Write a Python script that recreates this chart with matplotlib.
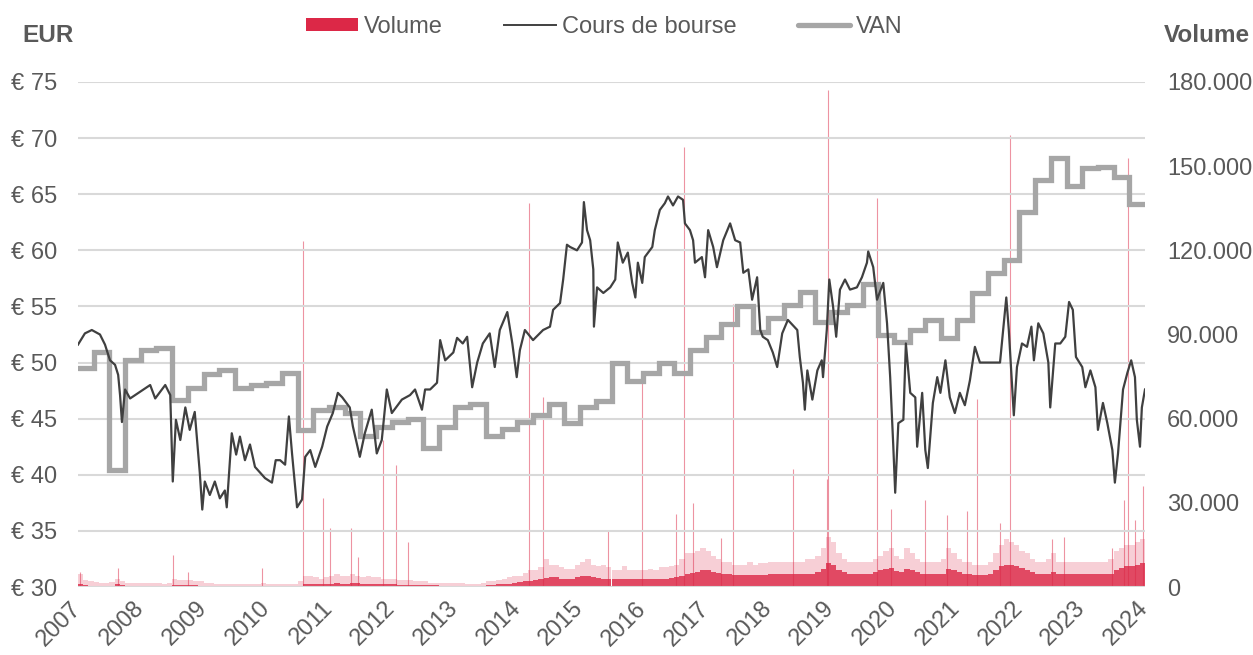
import numpy as np
import matplotlib
matplotlib.use("Agg")
import matplotlib.pyplot as plt
from matplotlib.patches import Patch
from matplotlib.lines import Line2D
from matplotlib.ticker import FuncFormatter

# share price (year fraction / EUR)
price_yr = [2007.00, 2007.11, 2007.22, 2007.35, 2007.43, 2007.51, 2007.59, 2007.64, 2007.67, 2007.70,
            2007.75, 2007.83, 2007.99, 2008.15, 2008.23, 2008.31, 2008.39, 2008.47, 2008.51, 2008.56,
            2008.63, 2008.71, 2008.78, 2008.86, 2008.91, 2008.94, 2008.98, 2009.02, 2009.10, 2009.18,
            2009.26, 2009.34, 2009.37, 2009.45, 2009.52, 2009.58, 2009.66, 2009.74, 2009.82, 2009.90,
            2009.98, 2010.09, 2010.15, 2010.22, 2010.30, 2010.36, 2010.41, 2010.49, 2010.57, 2010.62,
            2010.70, 2010.78, 2010.89, 2010.97, 2011.06, 2011.14, 2011.21, 2011.33, 2011.38, 2011.49,
            2011.57, 2011.68, 2011.76, 2011.84, 2011.92, 2012.00, 2012.16, 2012.29, 2012.37, 2012.48,
            2012.53, 2012.61, 2012.72, 2012.77, 2012.85, 2012.98, 2013.04, 2013.13, 2013.20, 2013.28,
            2013.36, 2013.45, 2013.56, 2013.64, 2013.72, 2013.84, 2013.92, 2013.99, 2014.04, 2014.12,
            2014.25, 2014.41, 2014.52, 2014.57, 2014.68, 2014.73, 2014.79, 2014.84, 2014.95, 2015.03,
            2015.06, 2015.11, 2015.16, 2015.21, 2015.22, 2015.27, 2015.37, 2015.48, 2015.56, 2015.60,
            2015.68, 2015.76, 2015.83, 2015.88, 2015.92, 2015.99, 2016.03, 2016.15, 2016.19, 2016.27,
            2016.35, 2016.40, 2016.48, 2016.56, 2016.64, 2016.67, 2016.75, 2016.80, 2016.83, 2016.94,
            2016.99, 2017.04, 2017.12, 2017.18, 2017.28, 2017.39, 2017.47, 2017.55, 2017.60, 2017.68,
            2017.74, 2017.82, 2017.87, 2017.91, 2017.99, 2018.07, 2018.14, 2018.22, 2018.31, 2018.46,
            2018.50, 2018.55, 2018.58, 2018.62, 2018.70, 2018.78, 2018.85, 2018.87, 2018.93, 2018.97,
            2019.03, 2019.08, 2019.14, 2019.22, 2019.30, 2019.41, 2019.49, 2019.57, 2019.59, 2019.67,
            2019.73, 2019.83, 2019.89, 2019.94, 2019.99, 2020.02, 2020.07, 2020.15, 2020.19, 2020.26,
            2020.34, 2020.37, 2020.45, 2020.50, 2020.54, 2020.62, 2020.69, 2020.74, 2020.82, 2020.89,
            2020.97, 2021.05, 2021.13, 2021.21, 2021.29, 2021.37, 2021.53, 2021.69, 2021.74, 2021.79,
            2021.83, 2021.88, 2021.91, 2021.96, 2022.04, 2022.12, 2022.19, 2022.23, 2022.30, 2022.38,
            2022.46, 2022.49, 2022.57, 2022.65, 2022.73, 2022.79, 2022.85, 2022.90, 2023.00, 2023.05,
            2023.13, 2023.21, 2023.25, 2023.33, 2023.40, 2023.48, 2023.52, 2023.57, 2023.65, 2023.72,
            2023.78, 2023.84, 2023.87, 2023.92, 2023.95, 2024.00]
price = [51.6, 52.6, 52.9, 52.5, 51.6, 50.2, 49.8, 48.9, 47.1, 44.7,
         47.6, 46.8, 47.4, 48.0, 46.8, 47.4, 48.0, 47.1, 39.4, 44.9,
         43.1, 46.0, 44.0, 45.6, 42.2, 40.2, 36.9, 39.4, 38.2, 39.4,
         37.9, 38.6, 37.1, 43.7, 41.8, 43.4, 41.3, 42.7, 40.7, 40.2,
         39.7, 39.3, 41.3, 41.3, 40.9, 45.2, 41.9, 37.1, 37.8, 41.6,
         42.2, 40.7, 42.5, 44.3, 45.5, 47.3, 46.9, 46.0, 44.3, 41.6,
         43.7, 45.8, 41.9, 43.1, 47.6, 45.5, 46.7, 47.1, 47.6, 45.8,
         47.6, 47.6, 48.2, 52.0, 50.2, 50.9, 52.2, 51.7, 52.3, 47.8,
         50.0, 51.7, 52.6, 49.6, 52.9, 54.5, 51.7, 48.7, 51.1, 52.9,
         52.0, 52.9, 53.2, 54.7, 55.3, 57.4, 60.5, 60.3, 60.0, 60.7,
         64.3, 61.8, 60.9, 58.3, 53.2, 56.7, 56.2, 56.7, 57.4, 60.7,
         58.9, 59.8, 57.1, 55.8, 58.9, 57.1, 59.4, 60.3, 61.8, 63.6,
         64.2, 64.8, 64.0, 64.8, 64.5, 62.4, 61.8, 60.9, 58.9, 59.4,
         57.6, 61.8, 60.3, 58.5, 60.9, 62.4, 60.9, 60.7, 58.0, 58.3,
         55.6, 57.6, 52.9, 52.3, 52.0, 50.9, 49.6, 52.6, 53.8, 52.9,
         50.5, 48.2, 45.8, 49.3, 46.7, 49.3, 50.2, 48.7, 52.9, 57.4,
         55.0, 52.3, 56.5, 57.4, 56.5, 56.7, 57.6, 58.9, 59.9, 58.5,
         55.6, 57.1, 53.5, 48.7, 42.5, 38.4, 44.6, 44.9, 51.7, 47.3,
         46.9, 42.5, 47.3, 42.2, 40.6, 46.4, 48.7, 47.3, 50.2, 46.9,
         45.5, 47.3, 46.2, 48.4, 51.4, 50.0, 50.0, 50.0, 52.9, 55.8,
         52.9, 48.2, 45.3, 49.6, 51.7, 51.4, 53.2, 50.2, 53.5, 52.6,
         50.0, 46.0, 51.7, 51.7, 52.3, 55.4, 54.7, 50.5, 49.6, 47.8,
         49.3, 47.8, 44.0, 46.4, 44.6, 42.2, 39.3, 41.9, 47.6, 49.1,
         50.2, 48.7, 44.9, 42.5, 46.0, 47.6]

# VAN per quarter, 2007 Q1 .. 2023 Q4
van = [49.5, 50.9, 40.4, 50.2, 51.1, 51.3, 46.7, 47.7, 49.0, 49.3,
       47.7, 48.0, 48.2, 49.1, 44.0, 45.8, 46.0, 45.5, 43.5, 44.3,
       44.7, 45.0, 42.4, 44.3, 46.0, 46.3, 43.5, 44.1, 44.7, 45.3,
       46.3, 44.6, 46.0, 46.6, 50.0, 48.4, 49.1, 50.0, 49.1, 51.1,
       52.3, 53.4, 55.0, 52.7, 54.0, 55.1, 56.3, 53.6, 54.5, 55.1,
       57.0, 52.5, 51.8, 52.9, 53.8, 52.2, 53.8, 56.2, 58.0, 59.1,
       63.4, 66.3, 68.2, 65.7, 67.3, 67.4, 66.5, 64.1]

# monthly volume, thousands: dense core and upper envelope
vol_core = [0.9, 0.6, 0.5, 0.5, 0.5, 0.4, 0.5, 0.9, 0.6, 0.5, 0.4, 0.4,
            0.4, 0.4, 0.4, 0.4, 0.3, 0.4, 0.6, 0.6, 0.6, 0.7, 0.6, 0.5,
            0.4, 0.4, 0.3, 0.3, 0.3, 0.3, 0.3, 0.3, 0.3, 0.3, 0.3, 0.3,
            0.3, 0.3, 0.3, 0.3, 0.3, 0.3, 0.5, 1.2, 1.2, 1.0, 1.0, 1.2,
            1.2, 1.4, 1.2, 1.2, 1.4, 1.3, 1.2, 1.2, 1.0, 1.2, 1.0, 0.9,
            0.9, 0.8, 0.8, 0.8, 0.6, 0.6, 0.6, 0.6, 0.6, 0.5, 0.5, 0.5,
            0.5, 0.5, 0.5, 0.5, 0.5, 0.5, 0.7, 0.8, 0.9, 1.0, 1.2, 1.5,
            1.8, 2.0, 2.3, 2.5, 2.8, 3.2, 3.4, 3.4, 3.0, 3.0, 3.0, 3.4,
            3.8, 3.8, 3.6, 3.3, 3.0, 3.0, 2.8, 2.8, 3.0, 2.8, 2.8, 2.8,
            2.8, 2.8, 2.8, 3.0, 3.0, 3.2, 3.4, 4.0, 4.6, 5.0, 5.5, 6.0,
            6.0, 5.4, 5.0, 4.6, 4.5, 4.3, 4.3, 4.3, 4.3, 4.3, 4.3, 4.3,
            4.5, 4.5, 4.5, 4.5, 4.5, 4.5, 4.5, 4.8, 4.8, 5.2, 6.5, 8.5,
            8.0, 6.0, 5.2, 4.8, 4.5, 4.5, 4.5, 4.8, 5.2, 6.0, 6.5, 6.8,
            5.6, 5.2, 6.5, 6.0, 5.2, 4.8, 4.5, 4.5, 4.5, 4.8, 6.5, 6.0,
            5.2, 4.8, 4.5, 4.2, 4.2, 4.2, 4.5, 6.0, 7.5, 8.0, 8.0, 7.5,
            6.8, 6.0, 5.2, 4.8, 4.5, 4.8, 5.2, 4.8, 4.5, 4.5, 4.5, 4.5,
            4.5, 4.5, 4.5, 4.5, 4.5, 4.8, 6.0, 6.8, 7.5, 7.5, 8.0, 8.5]
vol_hi = [4.5, 2.5, 2.0, 1.8, 1.5, 1.5, 1.8, 3.0, 2.0, 1.5, 1.5, 1.5,
          1.5, 1.5, 1.5, 1.5, 1.2, 1.5, 3.0, 2.5, 2.5, 2.5, 2.0, 2.0,
          1.5, 1.5, 1.2, 1.2, 1.0, 1.0, 1.0, 1.0, 1.0, 1.0, 1.2, 1.5,
          1.2, 1.0, 1.0, 1.0, 1.0, 1.0, 2.0, 4.0, 4.0, 3.5, 3.0, 3.5,
          4.0, 4.5, 4.0, 4.0, 4.5, 4.0, 3.5, 4.0, 3.5, 3.5, 3.0, 3.0,
          3.0, 2.5, 2.5, 2.5, 2.0, 2.0, 2.0, 1.5, 1.5, 1.5, 1.5, 1.5,
          1.5, 1.5, 1.2, 1.2, 1.2, 1.5, 2.0, 2.0, 2.5, 3.0, 3.5, 4.0,
          4.0, 5.0, 6.0, 6.0, 7.0, 10.0, 8.0, 8.0, 7.0, 6.5, 6.5, 8.0,
          9.0, 10.0, 8.0, 7.5, 8.0, 7.0, 6.0, 6.0, 7.5, 6.0, 6.0, 6.0,
          6.0, 6.5, 6.0, 7.0, 7.0, 7.5, 8.0, 10.0, 12.0, 12.0, 13.0, 14.0,
          13.0, 11.0, 10.0, 9.0, 9.0, 8.0, 8.0, 8.0, 9.0, 8.0, 8.5, 8.5,
          9.0, 9.0, 9.0, 9.0, 9.0, 9.0, 9.0, 10.0, 10.0, 11.0, 14.0, 18.0,
          16.0, 12.0, 10.0, 9.0, 9.0, 9.0, 9.0, 9.0, 10.0, 11.0, 13.0, 14.0,
          11.0, 10.0, 14.0, 12.0, 10.0, 9.0, 9.0, 9.0, 9.0, 10.0, 14.0, 12.0,
          10.0, 9.0, 9.0, 8.0, 8.0, 8.0, 9.0, 12.0, 15.0, 17.0, 16.0, 15.0,
          13.0, 12.0, 10.0, 9.0, 9.0, 10.0, 12.0, 9.0, 9.0, 9.0, 9.0, 9.0,
          9.0, 9.0, 9.0, 9.0, 9.0, 10.0, 13.0, 14.0, 15.0, 15.0, 16.0, 17.0]

# single-day volume spikes (year, thousands)
spike_yr = [2007.03, 2007.64, 2008.51, 2008.75, 2009.93, 2010.58, 2010.90, 2011.02, 2011.35, 2011.46,
            2011.86, 2012.06, 2012.25, 2014.19, 2014.41, 2015.45, 2015.99, 2016.53, 2016.66, 2016.80,
            2017.25, 2017.44, 2018.39, 2018.93, 2018.95, 2019.73, 2019.95, 2020.50, 2020.85, 2021.17,
            2021.32, 2021.69, 2021.85, 2022.52, 2022.71, 2023.48, 2023.67, 2023.73, 2023.84, 2023.97]
spike_vol = [5.3, 6.8, 11.4, 5.3, 6.8, 123.5, 31.7, 21.0, 21.0, 10.7,
             52.5, 43.5, 16.0, 137.0, 67.6, 20.0, 72.6, 26.0, 157.0, 30.0,
             17.4, 101.0, 42.0, 38.5, 177.0, 138.5, 27.8, 31.0, 25.6, 27.0,
             67.0, 22.8, 161.0, 17.0, 17.8, 14.0, 31.0, 153.0, 24.0, 36.0]

years = list(range(2007, 2025))

RED = "#DC2847"
GREY_TXT = "#595959"

plt.rcParams["font.family"] = ["Liberation Sans", "DejaVu Sans"]

fig = plt.figure(figsize=(12.53, 6.55), dpi=100)
ax = fig.add_axes([78 / 1253, 68 / 655, (1145 - 78) / 1253, (587 - 82) / 655])
ax2 = ax.twinx()
ax.set_zorder(ax2.get_zorder() + 1)
ax.patch.set_visible(False)

# volume on the right axis
months = 2007 + (np.arange(len(vol_core)) + 0.5) / 12
ax2.bar(months, np.array(vol_hi) * 1000, width=1 / 12, color=RED, alpha=0.22, linewidth=0)
ax2.bar(months, np.array(vol_core) * 1000, width=1 / 12, color=RED, alpha=0.8, linewidth=0)
ax2.vlines(spike_yr, 0, np.array(spike_vol) * 1000, color=RED, lw=0.8, alpha=0.5)

# price + VAN on the left axis
van_x = [2007 + k / 4 for k in range(len(van))] + [2024.0]
ax.step(van_x, van + [van[-1]], where="post", color="#A6A6A6", lw=3.8,
        solid_joinstyle="miter", solid_capstyle="round")
ax.plot(price_yr, price, color="#404040", lw=1.6)

ax.set_xlim(2007, 2024)
ax.set_ylim(30, 75)
ax.set_yticks(range(30, 80, 5))
ax.yaxis.set_major_formatter(FuncFormatter(lambda v, p: f"€ {v:.0f}"))
ax2.set_ylim(0, 180000)
ax2.set_yticks(range(0, 180001, 30000))
ax2.yaxis.set_major_formatter(FuncFormatter(lambda v, p: f"{v:,.0f}".replace(",", ".")))

ax.set_xticks(years)
ax.set_xticklabels([str(y) for y in years], rotation=45, ha="right", va="center",
                   rotation_mode="anchor")

ax.yaxis.grid(True, color="#D9D9D9", lw=1.5)
ax.xaxis.grid(False)
for a in (ax, ax2):
    for s in a.spines.values():
        s.set_visible(False)
ax.tick_params(axis="y", length=0, labelsize=17, labelcolor=GREY_TXT, pad=15)
ax.tick_params(axis="x", length=0, labelsize=17, labelcolor=GREY_TXT, pad=13)
ax2.tick_params(axis="y", length=0, labelsize=17, labelcolor=GREY_TXT, pad=16)

fig.text(22 / 1253, 1 - 36 / 655, "EUR", fontsize=17.5, fontweight="bold", color=GREY_TXT,
         ha="left", va="center")
fig.text(1250 / 1253, 1 - 36 / 655, "Volume", fontsize=17.5, fontweight="bold", color=GREY_TXT,
         ha="right", va="center")

handles = [Patch(facecolor=RED, edgecolor="none"),
           Line2D([], [], color="#404040", lw=1.4),
           Line2D([], [], color="#A6A6A6", lw=3.8, solid_capstyle="round")]
fig.legend(handles, ["Volume", "Cours de bourse", "VAN"], loc="center",
           bbox_to_anchor=(604 / 1253, 1 - 27 / 655), ncol=3, frameon=False,
           fontsize=17, labelcolor=GREY_TXT, handlelength=2.2, handleheight=0.5,
           handletextpad=0.25, columnspacing=2.6)

fig.savefig("out.png", dpi=100)
